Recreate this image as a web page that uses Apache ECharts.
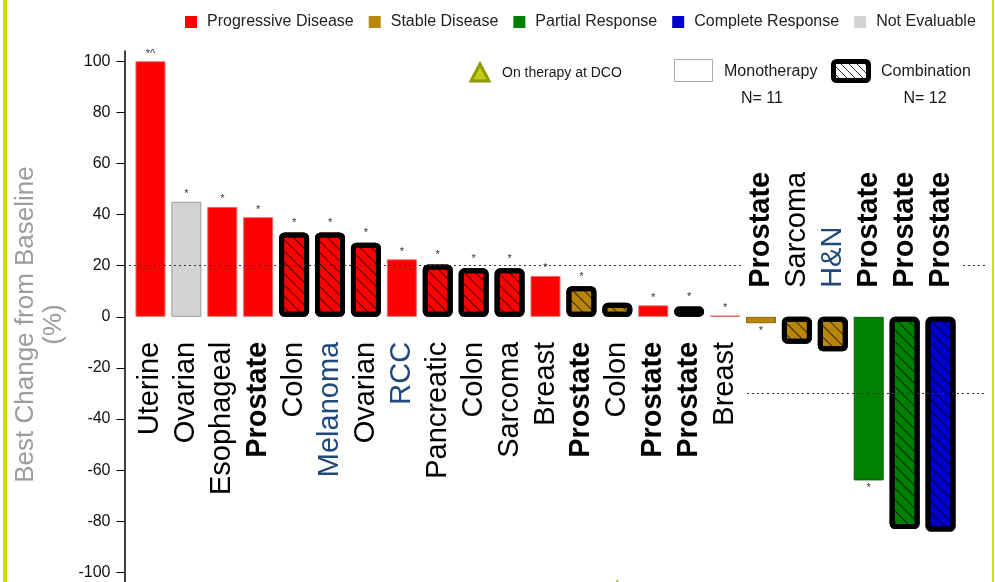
<!DOCTYPE html>
<html>
<head>
<meta charset="utf-8">
<script src="https://cdn.jsdelivr.net/npm/echarts@6/dist/echarts.min.js"></script>
<style>
  html, body { margin: 0; padding: 0; background: #fff; }
  #chart { width: 995px; height: 582px; }
</style>
</head>
<body>
<div id="chart"></div>
<script>
// Best percent change from baseline per patient, sorted (waterfall)
const categories = ['Uterine', 'Ovarian', 'Esophageal', 'Prostate', 'Colon', 'Melanoma', 'Ovarian', 'RCC',
  'Pancreatic', 'Colon', 'Sarcoma', 'Breast', 'Prostate', 'Colon', 'Prostate', 'Prostate', 'Breast',
  'Prostate', 'Sarcoma', 'H&N', 'Prostate', 'Prostate', 'Prostate'];
const bestChange = [100, 45, 43, 39, 33, 33, 29, 22.5, 20.5, 19, 19, 16, 12, 5.5, 4.5, 4, 0.5,
  -2.5, -10.5, -13.5, -64, -83, -84];
// PD progressive, SD stable, PR partial, CR complete, NE not evaluable
const response = ['PD', 'NE', 'PD', 'PD', 'PD', 'PD', 'PD', 'PD', 'PD', 'PD', 'PD', 'PD', 'SD', 'SD', 'PD',
  'SD', 'PD', 'SD', 'SD', 'SD', 'PR', 'PR', 'CR'];
// M monotherapy, C combination
const regimen = ['M', 'M', 'M', 'M', 'C', 'C', 'C', 'M', 'C', 'C', 'C', 'M', 'C', 'C', 'M', 'C', 'M',
  'M', 'C', 'C', 'M', 'C', 'C'];
const notes = ['*^', '*', '*', '*', '*', '*', '*', '*', '*', '*', '*', '*', '*', '', '*', '*', '*',
  '*', '', '', '*', '', ''];
const onTherapyAtDCO = [13];
const responseKeys = ['PD', 'SD', 'PR', 'CR', 'NE'];
const responseNames = ['Progressive Disease', 'Stable Disease', 'Partial Response', 'Complete Response', 'Not Evaluable'];
const yTicks = [-100, -80, -60, -40, -20, 0, 20, 40, 60, 80, 100];
const progressionLine = 20;
const responseLine = -30;
const markerRow = -107;

const FONT = 'Liberation Sans, Arial, sans-serif';
const fills = { PD: '#ff0000', SD: '#b8860b', PR: '#008000', CR: '#0000cd', NE: '#d3d3d3' };
const edges = { PD: '#e86a6a', SD: '#8b6508', PR: '#0b5e0b', CR: '#00008b', NE: '#9a9a9a' };
const blueSites = ['Melanoma', 'RCC', 'H&N'];

// plot frame; the y range runs past the bottom of the canvas
const Y_MIN = -110, Y_MAX = 104;
const GRID_TOP = 51, GRID_HEIGHT = 547;
const zeroPx = GRID_TOP + GRID_HEIGHT * Y_MAX / (Y_MAX - Y_MIN);

const hatch = {
  symbol: 'rect', symbolSize: 1,
  dashArrayX: [1, 0], dashArrayY: [1, 7],
  rotation: Math.PI / 4,
  color: 'rgba(0,0,0,0.7)'
};

function siteLabel(name) {
  if (name === 'Prostate') return '{b|' + name + '}';
  if (blueSites.indexOf(name) >= 0) return '{blue|' + name + '}';
  return '{n|' + name + '}';
}

const labelRich = {
  n: { fontSize: 29, color: '#000', fontFamily: FONT },
  b: { fontSize: 29, color: '#000', fontWeight: 'bold', fontFamily: FONT },
  blue: { fontSize: 29, color: '#1f497d', fontFamily: FONT }
};

const barSeries = responseKeys.map((key, k) => ({
  name: responseNames[k],
  type: 'bar',
  stack: 'patients',
  barWidth: 30,
  itemStyle: { color: fills[key], borderColor: edges[key], borderWidth: 1 },
  data: bestChange.map((v, i) => {
    if (response[i] !== key) return '-';
    const item = { value: v };
    if (regimen[i] === 'C') {
      item.itemStyle = { borderColor: '#000', borderWidth: 5, borderRadius: 3, decal: hatch };
    }
    if (notes[i]) {
      item.label = {
        show: true, formatter: notes[i], position: v >= 0 ? 'top' : 'bottom',
        distance: regimen[i] === 'C' ? 4 : 2,
        fontSize: 11, color: '#333', fontFamily: FONT
      };
    }
    return item;
  })
}));

// Site names sit on the zero line: below it for growth, above it for shrinkage
const siteAxis = (pos, keep) => ({
  type: 'category',
  position: pos,
  offset: pos === 'top' ? -(zeroPx - GRID_TOP) : -(GRID_TOP + GRID_HEIGHT - zeroPx),
  data: categories,
  axisLine: { show: false, onZero: false },
  axisTick: { show: false },
  splitLine: { show: false },
  axisLabel: {
    interval: 0, rotate: pos === 'top' ? -90 : 90, margin: pos === 'top' ? 29 : 25, hideOverlap: false,
    formatter: (value, idx) => keep(bestChange[idx]) ? siteLabel(value) : '',
    rich: labelRich
  }
});

function hatchLines(x0, y0, x1, y1, step) {
  const out = [];
  const h = y1 - y0;
  for (let d = -h + 3; d < x1 - x0; d += step) {
    let ax = x0 + d, ay = y0, bx = x0 + d + h, by = y1;
    if (ax < x0) { ay += x0 - ax; ax = x0; }
    if (bx > x1) { by -= bx - x1; bx = x1; }
    if (by > ay) out.push({ type: 'line', shape: { x1: ax, y1: ay, x2: bx, y2: by }, style: { stroke: '#333', lineWidth: 1 } });
  }
  return out;
}

const txt = (x, y, text, size, align) => ({
  type: 'text', x: x, y: y,
  style: { text: text, fontSize: size, fontFamily: FONT, fill: '#1a1a1a', align: align || 'left', verticalAlign: 'middle' }
});

const chart = echarts.init(document.getElementById('chart'), null, { renderer: 'canvas' });

chart.setOption({
  backgroundColor: '#fff',
  animation: false,
  textStyle: { fontFamily: FONT },
  grid: { left: 132.5, right: 36.5, top: GRID_TOP, height: GRID_HEIGHT, containLabel: false, outerBoundsMode: 'none' },
  legend: {
    data: responseNames, left: 185, top: 14, padding: 0, itemWidth: 12, itemHeight: 12, itemGap: 15,
    icon: 'rect', selectedMode: false,
    itemStyle: { borderWidth: 0 },
    textStyle: { fontSize: 16, color: '#222', fontFamily: FONT, padding: [0, 0, 0, 5] }
  },
  xAxis: [
    siteAxis('bottom', v => v >= 0),
    siteAxis('top', v => v < 0)
  ],
  yAxis: {
    type: 'value', min: Y_MIN, max: Y_MAX, offset: 8,
    name: 'Best Change from Baseline\n(%)', nameLocation: 'middle', nameRotate: 90, nameGap: 48,
    nameTextStyle: { fontSize: 26, lineHeight: 28, color: '#9c9c9c', fontFamily: FONT },
    axisLine: { show: true, onZero: false, lineStyle: { color: '#000', width: 1.5 } },
    axisTick: { show: true, length: 8, customValues: yTicks, lineStyle: { color: '#000' } },
    axisLabel: { customValues: yTicks, fontSize: 16, color: '#111', margin: 14, fontFamily: FONT },
    splitLine: { show: false }
  },
  series: barSeries.concat([{
    name: 'On therapy at DCO',
    type: 'scatter',
    symbol: 'triangle', symbolSize: 18,
    itemStyle: { color: '#bfcc10', borderColor: '#8e9a00', borderWidth: 2 },
    data: onTherapyAtDCO.map(i => [i, markerRow]),
    markLine: {
      silent: true, symbol: 'none',
      label: { show: false },
      lineStyle: { color: '#333', type: [2, 3], width: 1 },
      data: [
        [{ coord: [0, progressionLine], x: 124 }, { coord: [0, progressionLine], x: 742 }],
        [{ coord: [0, progressionLine], x: 963 }, { coord: [0, progressionLine], x: 986 }],
        [{ coord: [0, responseLine], x: 747 }, { coord: [0, responseLine], x: 986 }]
      ]
    }
  }]),
  graphic: [
    { type: 'rect', shape: { x: 3, y: 0, width: 4, height: 582 }, style: { fill: '#c8dc00' }, silent: true },
    { type: 'rect', shape: { x: 992, y: 0, width: 2, height: 582 }, style: { fill: '#d4e200' }, silent: true },
    { type: 'polygon', shape: { points: [[480, 64], [471, 81], [489, 81]] }, style: { fill: '#c2cf14', stroke: '#8e9a00', lineWidth: 3 } },
    txt(502, 73, 'On therapy at DCO', 14),
    { type: 'rect', shape: { x: 674.5, y: 59.5, width: 38, height: 22 }, style: { fill: '#fff', stroke: '#aaa', lineWidth: 1 } },
    txt(724, 72, 'Monotherapy', 16),
    txt(762, 99, 'N= 11', 16, 'center'),
    ...hatchLines(836, 64, 866, 78, 8),
    { type: 'rect', shape: { x: 833.5, y: 61.5, width: 35, height: 19, r: 3 }, style: { fill: 'none', stroke: '#000', lineWidth: 5 } },
    txt(881, 72, 'Combination', 16),
    txt(925, 99, 'N= 12', 16, 'center')
  ]
});
</script>
</body>
</html>
